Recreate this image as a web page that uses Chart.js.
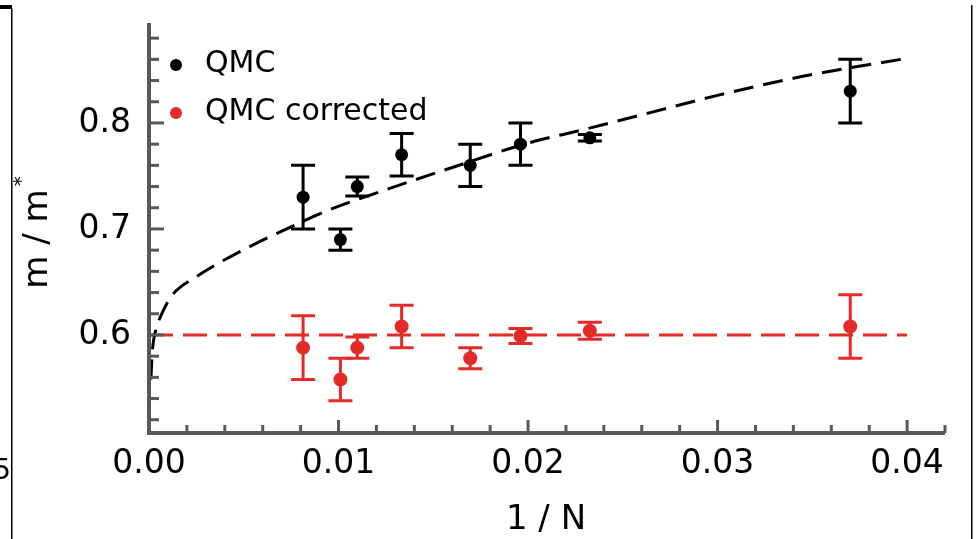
<!DOCTYPE html>
<html>
<head>
<meta charset="utf-8">
<script src="https://cdn.jsdelivr.net/npm/chart.js@4.4.0/dist/chart.umd.min.js"></script>
<style>
  html, body { margin: 0; padding: 0; background: #fff; }
  #wrap { width: 977px; height: 539px; position: relative; }
</style>
</head>
<body>
<div id="wrap"><canvas id="massChart" width="977" height="539"></canvas></div>
<script>
// 1/N for each system size
const invN = [0.00813, 0.0101, 0.01099, 0.01333, 0.01695, 0.0196, 0.02326, 0.0370];

// m / m* values and error bars
const qmc = [0.730, 0.690, 0.740, 0.770, 0.760, 0.780, 0.786, 0.830];
const qmcErr = [0.030, 0.010, 0.009, 0.020, 0.020, 0.020, 0.003, 0.030];
const qmcCorrected = [0.588, 0.558, 0.588, 0.608, 0.578, 0.599, 0.604, 0.608];
const qmcCorrectedErr = [0.030, 0.020, 0.010, 0.020, 0.010, 0.007, 0.008, 0.030];

// dashed fit curve
const fitX = [0.0001, 0.00017, 0.00038, 0.0006, 0.0012, 0.0025, 0.0040, 0.0055, 0.0075, 0.0095, 0.0125, 0.0160, 0.0200, 0.0230, 0.0265, 0.0300, 0.0345, 0.0400];
const fitY = [0.558, 0.583, 0.606, 0.617, 0.637, 0.655, 0.671, 0.685, 0.702, 0.718, 0.737, 0.758, 0.781, 0.794, 0.810, 0.826, 0.844, 0.861];

// corrected extrapolation (flat line)
const flatX = [0, 0.04];
const flatY = [0.6, 0.6];

const xTicks = [0, 0.01, 0.02, 0.03, 0.04];
const yTicks = [0.6, 0.7, 0.8];
const seriesLabels = ['QMC', 'QMC corrected'];
const xTitle = '1 / N';
const yTitle = 'm / m';
const yTitleSup = '*';

const BLACK = '#000000';
const RED = '#e52b27';
const AXIS = '#595959';
const FONT = '"DejaVu Sans", Verdana, sans-serif';

function toPoints(xs, ys) {
    return xs.map((x, i) => ({ x: x, y: ys[i] }));
}

// axes, inward ticks, error bars, legend, titles
const figurePlugin = {
    id: 'figure',
    afterDatasetsDraw(chart) {
        const ctx = chart.ctx;
        const xs = chart.scales.x;
        const ys = chart.scales.y;
        const area = chart.chartArea;

        ctx.save();

        // error bars
        chart.data.datasets.forEach(ds => {
            if (!ds.errors) return;
            ctx.strokeStyle = ds.backgroundColor;
            ctx.lineWidth = 3;
            ds.data.forEach((p, i) => {
                const px = xs.getPixelForValue(p.x);
                const top = ys.getPixelForValue(p.y + ds.errors[i]);
                const bot = ys.getPixelForValue(p.y - ds.errors[i]);
                ctx.beginPath();
                ctx.moveTo(px, top); ctx.lineTo(px, bot);
                ctx.moveTo(px - 12, top); ctx.lineTo(px + 12, top);
                ctx.moveTo(px - 12, bot); ctx.lineTo(px + 12, bot);
                ctx.stroke();
            });
        });

        // axis lines
        ctx.strokeStyle = AXIS;
        ctx.lineWidth = 4;
        ctx.beginPath();
        ctx.moveTo(area.left, area.top);
        ctx.lineTo(area.left, area.bottom);
        ctx.lineTo(area.right, area.bottom);
        ctx.stroke();

        // x ticks every 0.002, pointing up
        ctx.lineWidth = 3;
        for (let k = 1; k <= 21; k++) {
            const v = k * 0.002;
            if (v > xs.max) break;
            const px = xs.getPixelForValue(v);
            const len = (k % 5 === 0) ? 13 : 8;
            ctx.beginPath();
            ctx.moveTo(px, area.bottom);
            ctx.lineTo(px, area.bottom - len);
            ctx.stroke();
        }
        // y ticks every 0.02, pointing right
        for (let k = 26; k <= 44; k++) {
            const v = k * 0.02;
            if (v < ys.min || v > ys.max) continue;
            const py = ys.getPixelForValue(v);
            const len = (k % 5 === 0) ? 15 : 10;
            ctx.beginPath();
            ctx.moveTo(area.left, py);
            ctx.lineTo(area.left + len, py);
            ctx.stroke();
        }

        // legend
        const legendColors = [BLACK, RED];
        ctx.font = '30px ' + FONT;
        ctx.textAlign = 'left';
        ctx.textBaseline = 'middle';
        seriesLabels.forEach((label, i) => {
            const ly = area.top + 41 + i * 48;
            ctx.fillStyle = legendColors[i];
            ctx.beginPath();
            ctx.arc(area.left + 27, ly + 1, 6, 0, Math.PI * 2);
            ctx.fill();
            ctx.fillStyle = BLACK;
            ctx.fillText(label, area.left + 56, ly);
        });

        // x title
        ctx.font = '34px ' + FONT;
        ctx.textAlign = 'center';
        ctx.fillText(xTitle, 546, 520);

        // y title, rotated
        ctx.translate(38, 239);
        ctx.rotate(-Math.PI / 2);
        ctx.fillText(yTitle, 0, 0);
        const w = ctx.measureText(yTitle).width;
        ctx.font = '20px ' + FONT;
        ctx.fillText(yTitleSup, w / 2 + 8, -16);
        ctx.restore();

        // leftover frame edges from the source figure
        ctx.save();
        ctx.fillStyle = BLACK;
        ctx.fillRect(0, 5, 12, 4);
        ctx.fillRect(11, 8, 1.5, 531);
        ctx.fillRect(971, 5, 1.5, 534);
        ctx.font = '28px ' + FONT;
        ctx.textAlign = 'right';
        ctx.textBaseline = 'middle';
        ctx.fillText('5', 11, 472);
        ctx.restore();
    }
};

const ctx = document.getElementById('massChart');

new Chart(ctx, {
    type: 'scatter',
    data: {
        datasets: [{
            label: 'fit',
            data: toPoints(fitX, fitY),
            showLine: true,
            borderColor: BLACK,
            borderWidth: 3,
            borderDash: [20, 10],
            pointRadius: 0,
            cubicInterpolationMode: 'monotone',
            order: 3
        }, {
            label: 'flat',
            data: toPoints(flatX, flatY),
            showLine: true,
            borderColor: RED,
            borderWidth: 3,
            borderDash: [24, 10],
            pointRadius: 0,
            order: 3
        }, {
            label: seriesLabels[0],
            data: toPoints(invN, qmc),
            errors: qmcErr,
            backgroundColor: BLACK,
            borderWidth: 0,
            pointRadius: 6.5,
            order: 1
        }, {
            label: seriesLabels[1],
            data: toPoints(invN, qmcCorrected),
            errors: qmcCorrectedErr,
            backgroundColor: RED,
            borderWidth: 0,
            pointRadius: 7,
            order: 1
        }]
    },
    options: {
        responsive: false,
        animation: false,
        layout: { padding: { top: 23, right: 32, left: 0, bottom: 0 } },
        plugins: {
            legend: { display: false },
            tooltip: { enabled: false }
        },
        scales: {
            x: {
                type: 'linear',
                min: 0,
                max: 0.042,
                grid: { display: false, drawTicks: false },
                border: { display: false },
                afterBuildTicks: s => { s.ticks = xTicks.map(v => ({ value: v })); },
                afterFit: s => { s.height = 106; s.paddingLeft = 0; s.paddingRight = 0; },
                ticks: {
                    padding: 12,
                    color: BLACK,
                    font: { family: FONT, size: 33 },
                    callback: v => v.toFixed(2)
                }
            },
            y: {
                type: 'linear',
                min: 0.5075,
                max: 0.8943,
                grid: { display: false, drawTicks: false },
                border: { display: false },
                afterBuildTicks: s => { s.ticks = yTicks.map(v => ({ value: v })); },
                afterFit: s => { s.width = 149; s.paddingTop = 0; s.paddingBottom = 0; },
                ticks: {
                    padding: 18,
                    color: BLACK,
                    font: { family: FONT, size: 33 },
                    callback: v => v.toFixed(1)
                }
            }
        }
    },
    plugins: [figurePlugin]
});
</script>
</body>
</html>
